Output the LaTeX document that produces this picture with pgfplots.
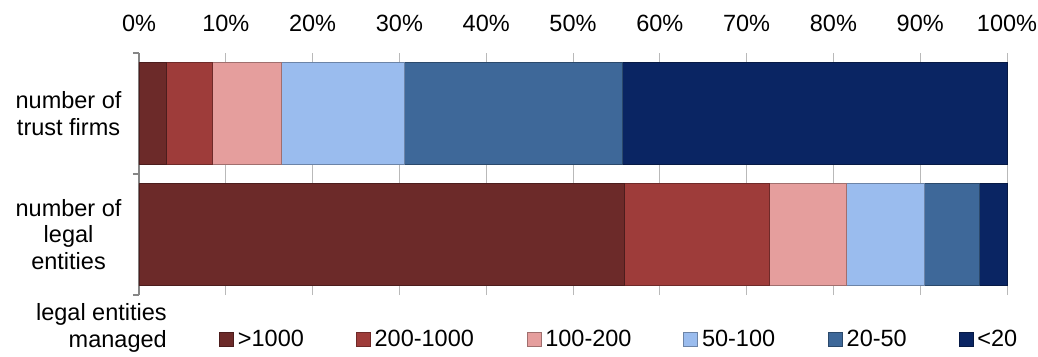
\documentclass[border=0pt]{standalone}
\usepackage{fontspec}
\setmainfont{Liberation Sans}
\usepackage{pgfplots}
\pgfplotsset{compat=1.18}

\definecolor{cA}{HTML}{6C2A29}
\definecolor{cB}{HTML}{9E3C3A}
\definecolor{cC}{HTML}{E59E9D}
\definecolor{cD}{HTML}{9ABCEE}
\definecolor{cE}{HTML}{3E6899}
\definecolor{cF}{HTML}{0A2563}
\definecolor{axisgray}{HTML}{868686}

\pgfplotsset{
  sqlegend/.style={legend image code/.code={%
      \draw[##1, line width=0.7pt] (0pt,-7pt) rectangle (14pt,7pt);}},
  seg/.style={fill=#1, draw=#1!70!black, line width=0.8pt, sqlegend},
}

\begin{document}
\begin{tikzpicture}
\useasboundingbox (-139pt,-61pt) rectangle (899pt,295pt);
\begin{axis}[
  at={(0pt,0pt)}, anchor=south west,
  scale only axis, width=868pt, height=242pt,
  clip=false,
  font=\fontsize{23.5}{26.5}\selectfont,
  xbar stacked, bar width=102pt,
  xmin=0, xmax=100, ymin=-0.5, ymax=1.5,
  axis x line*=top, axis y line*=left,
  x axis line style={draw=none},
  y axis line style={axisgray, line width=1.3pt, -},
  xtick={0,10,...,100},
  xticklabels={0\%,10\%,20\%,30\%,40\%,50\%,60\%,70\%,80\%,90\%,100\%},
  x tick style={draw=none},
  xticklabel style={yshift=11.5pt},
  xmajorgrids, major grid style={gray!55, line width=0.8pt},
  ytick={-0.5,0.5,1.5}, yticklabels={},
  tick align=outside, major tick length=6pt,
  y tick style={axisgray, line width=1.3pt},
  extra y ticks={0,1},
  extra y tick labels={{number of\\legal\\entities},{number of\\trust firms}},
  extra y tick style={major tick length=0pt, ymajorgrids=false,
    yticklabel style={align=center, xshift=-14pt}},
  legend columns=6,
  legend style={draw=none, fill=none, inner sep=0pt,
    at={(axis description cs:0.0922,-0.1818)}, anchor=west,
    nodes={inner xsep=0pt, inner ysep=2pt},
    /tikz/every odd column/.append style={column sep=4pt},
    /tikz/every even column/.append style={column sep=0pt}},
]
% y = 1: number of trust firms, y = 0: number of legal entities
\addplot[seg=cA] coordinates {(3.2,1) (55.9,0)};
\addlegendentry{\makebox[118pt][l]{>1000}}
\addplot[seg=cB] coordinates {(5.2,1) (16.7,0)};
\addlegendentry{\makebox[152pt][l]{200-1000}}
\addplot[seg=cC] coordinates {(8.0,1) (8.9,0)};
\addlegendentry{\makebox[138pt][l]{100-200}}
\addplot[seg=cD] coordinates {(14.2,1) (9.0,0)};
\addlegendentry{\makebox[126pt][l]{50-100}}
\addplot[seg=cE] coordinates {(25.1,1) (6.3,0)};
\addlegendentry{\makebox[112pt][l]{20-50}}
\addplot[seg=cF] coordinates {(44.3,1) (3.2,0)};
\addlegendentry{<20}
\node[anchor=east, align=right, inner sep=0pt]
  at (axis description cs:0.0322,-0.136) {legal entities\\managed};
\end{axis}
\end{tikzpicture}
\end{document}
